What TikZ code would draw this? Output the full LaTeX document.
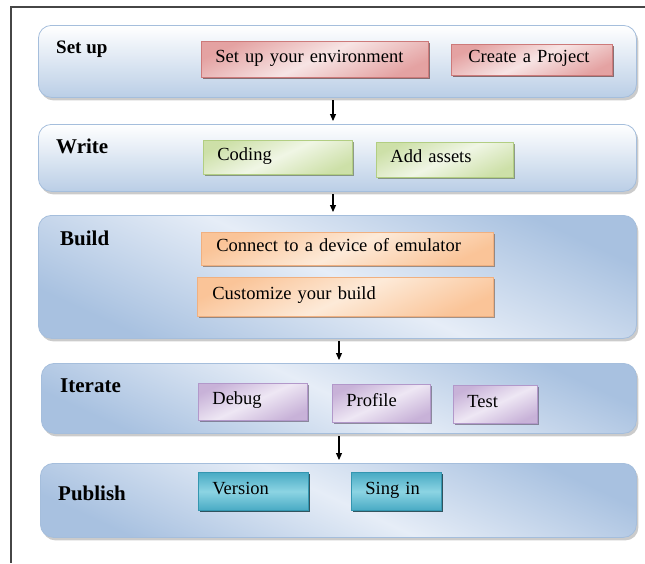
\documentclass[tikz,border=0pt]{standalone}
\usepackage{fontspec}
\setmainfont{Liberation Serif}
\usetikzlibrary{shadows,arrows.meta}
\definecolor{pbl}{RGB}{186,206,230}
\definecolor{pbl2}{RGB}{168,193,224}
\definecolor{plt}{RGB}{230,237,247}
\definecolor{pbord}{RGB}{165,190,220}
\definecolor{rdE}{RGB}{228,162,162}
\definecolor{rdM}{RGB}{247,228,228}
\definecolor{rdB}{RGB}{205,122,122}
\definecolor{grE}{RGB}{205,224,168}
\definecolor{grM}{RGB}{240,246,229}
\definecolor{grB}{RGB}{178,206,130}
\definecolor{orE}{RGB}{250,196,152}
\definecolor{orM}{RGB}{253,234,216}
\definecolor{orB}{RGB}{240,176,128}
\definecolor{puE}{RGB}{200,178,216}
\definecolor{puM}{RGB}{238,231,244}
\definecolor{puB}{RGB}{178,152,202}
\definecolor{tlE}{RGB}{72,170,196}
\definecolor{tlM}{RGB}{140,212,227}
\definecolor{tlB}{RGB}{52,150,176}
\definecolor{frame}{RGB}{70,70,70}
\tikzset{
  panel/.style={draw=pbord, line width=0.8pt, rounded corners=13pt, anchor=north west,
    drop shadow={shadow xshift=2pt, shadow yshift=-3pt, fill=black!45, opacity=0.45}},
  vpanel/.style={panel, top color=white, bottom color=pbl},
  dpanel/.style={panel, top color=pbl2, bottom color=pbl2, middle color=plt, shading angle=-25},
  ptitle/.style={font=\bfseries\fontsize{21}{23}\selectfont, anchor=base west, inner sep=0pt},
  ibox/.style={anchor=north west, align=left, inner ysep=0pt, line width=0.8pt,
    text height=12pt, text depth=6pt, font=\fontsize{18.5}{21}\selectfont},
  redbox/.style={ibox, draw=rdB, top color=rdE, bottom color=rdE, middle color=rdM, shading angle=25,
    drop shadow={shadow xshift=2pt, shadow yshift=-2pt, fill=rdB!50!black, opacity=0.7}},
  greenbox/.style={ibox, draw=grB, top color=grE, bottom color=grE, middle color=grM, shading angle=25,
    drop shadow={shadow xshift=2pt, shadow yshift=-2pt, fill=grB!50!black, opacity=0.6}},
  orangebox/.style={ibox, draw=orB, top color=orE, bottom color=orE, middle color=orM, shading angle=25,
    drop shadow={shadow xshift=2pt, shadow yshift=-2pt, fill=orB!50!black, opacity=0.6}},
  purplebox/.style={ibox, draw=puB, top color=puE, bottom color=puE, middle color=puM, shading angle=25,
    drop shadow={shadow xshift=2pt, shadow yshift=-2pt, fill=puB!50!black, opacity=0.6}},
  tealbox/.style={ibox, draw=tlB, top color=tlE, bottom color=tlE, middle color=tlM,
    drop shadow={shadow xshift=2pt, shadow yshift=-2pt, fill=tlB!40!black, opacity=0.85}},
  arr/.style={line width=1.1pt, -{Triangle[length=7pt,width=6pt]}, shorten <=2.5pt, shorten >=3pt}
}
\begin{document}
\begin{tikzpicture}[x=1pt,y=-1pt]
\useasboundingbox (0,0) rectangle (645,563);
% frame
\draw[frame, line width=2pt] (645,7) -- (10.5,7) -- (10.5,563);
% panels
\node[vpanel, minimum width=598, minimum height=72] (setup) at (38,25) {};
\node[vpanel, minimum width=598, minimum height=67] (write) at (38,124) {};
\node[dpanel, minimum width=598, minimum height=123] (build) at (38,215) {};
\node[dpanel, minimum width=595, minimum height=70] (iterate) at (41,363) {};
\node[dpanel, minimum width=596, minimum height=74] (publish) at (40,463) {};
% titles
\node[ptitle, font=\bfseries\fontsize{19}{21}\selectfont] (tsetup) at (56,53) {Set up};
\node[ptitle] (twrite) at (56,153) {Write};
\node[ptitle] (tbuild) at (60,245) {Build};
\node[ptitle] (titerate) at (60,392) {Iterate};
\node[ptitle] (tpublish) at (58,500) {Publish};
% boxes
\node[redbox, minimum width=227, minimum height=36, text width=199pt, inner xsep=14pt] (env) at (201,41) {Set up your environment};
\node[redbox, minimum width=161, minimum height=31, text width=127pt, inner xsep=17pt] (proj) at (451,44) {Create a Project};
\node[greenbox, minimum width=149, minimum height=34, text width=121pt, inner xsep=14pt] (coding) at (203,140) {Coding};
\node[greenbox, minimum width=137, minimum height=35, text width=109pt, inner xsep=14pt] (assets) at (376,142) {Add assets};
\node[orangebox, minimum width=292, minimum height=33, text width=262pt, inner xsep=15pt] (connect) at (201,232) {Connect to a device of emulator};
\node[orangebox, minimum width=296, minimum height=39, text width=266pt, inner xsep=15pt] (custom) at (197,277) {Customize your build};
\node[purplebox, minimum width=109, minimum height=37, text width=81pt, inner xsep=14pt] (debug) at (198,383) {Debug};
\node[purplebox, minimum width=98, minimum height=38, text width=70pt, inner xsep=14pt] (profile) at (332,384) {Profile};
\node[purplebox, minimum width=84, minimum height=38, text width=56pt, inner xsep=14pt] (test) at (453,385) {Test};
\node[tealbox, minimum width=110, minimum height=38, text width=82pt, inner xsep=14pt] (version) at (198,472) {Version};
\node[tealbox, minimum width=90, minimum height=38, text width=62pt, inner xsep=14pt] (signin) at (351,472) {Sing in};
% arrows
\coordinate (ax1) at (333,0);
\coordinate (ax2) at (339,0);
\draw[arr] (setup.south -| ax1) -- (write.north -| ax1);
\draw[arr] (write.south -| ax1) -- (build.north -| ax1);
\draw[arr] (build.south -| ax2) -- (iterate.north -| ax2);
\draw[arr] (iterate.south -| ax2) -- (publish.north -| ax2);
\end{tikzpicture}
\end{document}
